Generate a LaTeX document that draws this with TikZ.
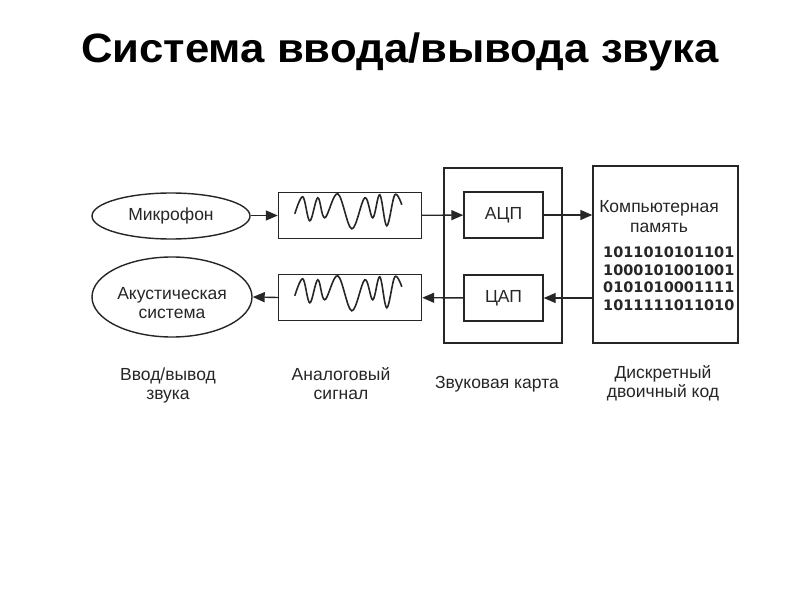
\documentclass[tikz,border=0pt]{standalone}
\usepackage{fontspec}
\setmainfont{Liberation Sans}
\newfontfamily\digitfont{DejaVu Sans}
\usetikzlibrary{arrows.meta,shapes.geometric}
\begin{document}
\begin{tikzpicture}[x=1bp,y=-1bp,
  line/.style={draw=black!85,line width=1.4bp},
  box/.style={line,rectangle,inner sep=0pt},
  oval/.style={line,ellipse,inner sep=0pt,align=center,font=\fontsize{17.5bp}{20bp}\selectfont,text=black!85},
  lbl/.style={font=\fontsize{17.5bp}{19bp}\selectfont,text=black!85,align=center,inner sep=0pt},
  arr/.style={line,-{Triangle[length=12bp,width=10bp]}},
  wave/.style={draw=black!85,line width=1.6bp}
]
\useasboundingbox (0,0) rectangle (800,600);
\node[font=\bfseries\fontsize{41bp}{46bp}\selectfont,anchor=base,inner sep=0pt] (title) at (400,63) {\scalebox{1.065}[1]{Система ввода/вывода звука}};

% sound card and memory
\node[box,minimum width=118bp,minimum height=175bp] (card) at (503,255.5) {};
\node[box,minimum width=145bp,minimum height=177bp] (mem) at (665.5,254.5) {};

% ellipses
\node[oval,minimum width=158bp,minimum height=46bp] (mic) at (171,216) {Микрофон};
\node[oval,minimum width=160bp,minimum height=80bp] (spk) at (172,297) {};
\node[lbl,anchor=base] (spktxt) at (172,318) {Акустическая\\система};

% wave boxes
\node[box,minimum width=143bp,minimum height=46bp] (w1) at (350,215.5) {};
\node[box,minimum width=143bp,minimum height=46bp] (w2) at (350,297.5) {};

% converters
\node[box,lbl,line,minimum width=79bp,minimum height=46bp] (adc) at (503.5,215) {АЦП};
\node[box,lbl,line,minimum width=79bp,minimum height=46bp] (dac) at (503.5,298) {ЦАП};

% waves
\foreach \w in {w1,w2}{
  \begin{scope}[shift={(\w.north west)}]
    \draw[wave] plot[smooth,tension=0.6] coordinates {(17,22) (25,5) (32,29) (40,6) (47,26) (60,2) (74,37) (87,6) (95,26) (102,3) (109,34) (117,3) (124,13)};
  \end{scope}
}

% memory texts
\node[lbl,anchor=base,font=\fontsize{17.5bp}{20bp}\selectfont] (memtxt) at (659,233) {Компьютерная\\память};
\node[lbl,anchor=base west,align=left,font=\digitfont\bfseries\fontsize{14.5bp}{17.5bp}\selectfont] (bits) at (603,310) {1011010101101\\1000101001001\\0101010001111\\1011111011010};

% arrows
\draw[arr] (mic.east |- w1.west) -- (w1.west);
\draw[arr] (w1) -- (adc);
\draw[arr] (adc.east) -- (adc.east -| mem.west);
\draw[arr] (dac.east -| mem.west) -- (dac.east);
\draw[arr] (dac) -- (w2);
\draw[arr] (w2.west) -- (spk.east);

% bottom labels
\node[lbl,anchor=base] (l1) at (168,399) {Ввод/вывод\\звука};
\node[lbl,anchor=base] (l2) at (341,399) {Аналоговый\\сигнал};
\node[lbl,anchor=base] (l3) at (497,388) {Звуковая карта};
\node[lbl,anchor=base] (l4) at (663,397) {Дискретный\\двоичный код};
\end{tikzpicture}
\end{document}
